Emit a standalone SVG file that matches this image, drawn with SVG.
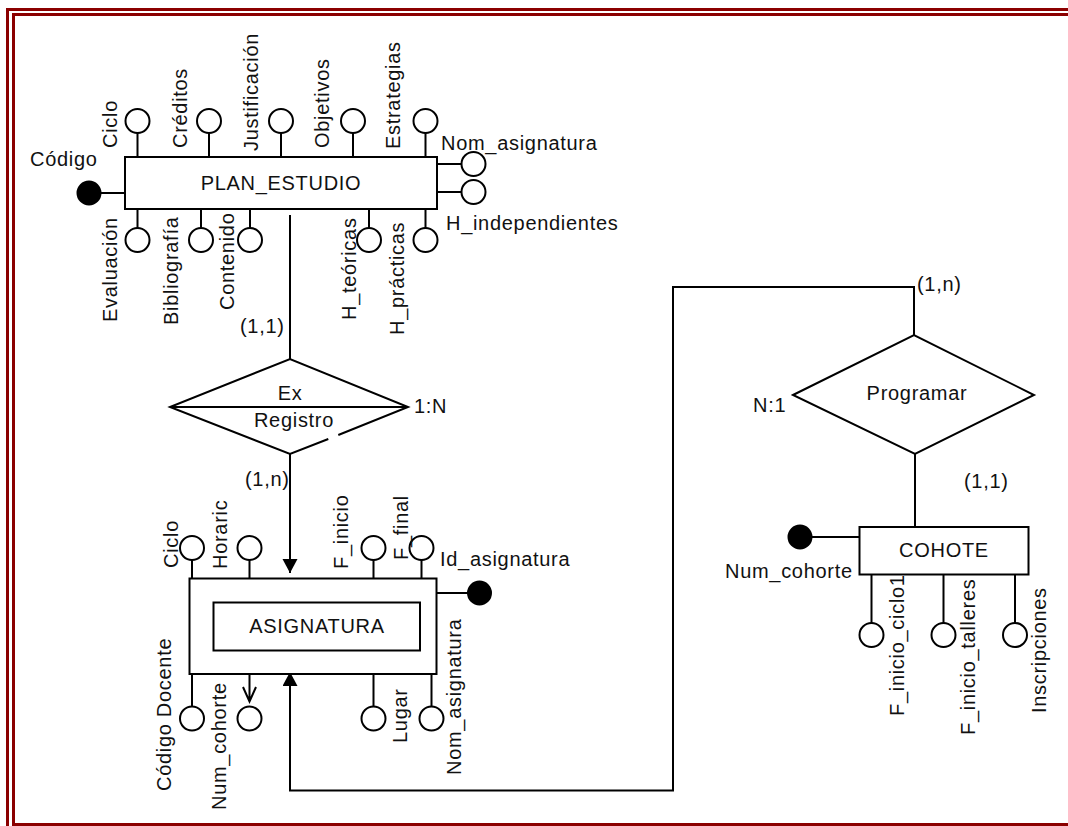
<svg xmlns="http://www.w3.org/2000/svg" width="1068" height="826" viewBox="0 0 1068 826">
<style>
.t{font-family:"Liberation Sans",Arial,sans-serif;font-size:20px;letter-spacing:0.7px;fill:#111}
.m{text-anchor:middle}
.s{fill:none;stroke:#000;stroke-width:2}
.e{fill:#fff;stroke:#000;stroke-width:2}
.k{fill:#000;stroke:#000;stroke-width:2}
.b{fill:none;stroke:#8b0000;stroke-width:3}
</style>
<defs>
<marker id="fa" markerUnits="userSpaceOnUse" markerWidth="16" markerHeight="16" refX="14" refY="7.5" orient="auto">
<path d="M0,0 L14,7.5 L0,15 Z" fill="#000"/>
</marker>
</defs>
<rect width="1068" height="826" fill="#fff"/>
<g id="frame">
<path class="b" d="M7.5,826 V9.5 H1068"/>
<path class="b" d="M1068,14.5 H13.5 V824.5 H1068"/>
</g>

<g id="connectors">
<path class="s" d="M290,215 V359"/>
<path class="s" d="M290,454 V573" marker-end="url(#fa)"/>
<path class="s" d="M914,335 V287 H673 V790.5 H290 V672" marker-end="url(#fa)"/>
<path class="s" d="M915,454 V527"/>
</g>

<g id="plan_estudio">
<rect class="e" x="125" y="157" width="312" height="52"/>
<text class="t m" x="281" y="190">PLAN_ESTUDIO</text>
<path class="s" d="M137.5,133 V157 M209,133 V157 M281,133 V157 M353,133 V157 M425.5,133 V157"/>
<circle class="e" cx="137.5" cy="121" r="12"/>
<circle class="e" cx="209" cy="121" r="12"/>
<circle class="e" cx="281" cy="121" r="12"/>
<circle class="e" cx="353" cy="121" r="12"/>
<circle class="e" cx="425.5" cy="121" r="12"/>
<text class="t" transform="translate(117,148) rotate(-90)">Ciclo</text>
<text class="t" transform="translate(187,148) rotate(-90)">Créditos</text>
<text class="t" transform="translate(258,151) rotate(-90)">Justificación</text>
<text class="t" transform="translate(329,148) rotate(-90)">Objetivos</text>
<text class="t" transform="translate(400,149) rotate(-90)">Estrategias</text>
<path class="s" d="M437,164 H461 M437,192 H461"/>
<circle class="e" cx="473.5" cy="164" r="12"/>
<circle class="e" cx="473.5" cy="192" r="12"/>
<text class="t" x="441" y="150">Nom_asignatura</text>
<text class="t" x="446" y="230">H_independientes</text>
<path class="s" d="M101,193 H125"/>
<circle class="k" cx="89" cy="193" r="11.5"/>
<text class="t" x="30" y="166">Código</text>
<path class="s" d="M137.5,209 V228 M201,209 V228 M250,209 V228 M369,209 V228 M425.5,209 V228"/>
<circle class="e" cx="137.5" cy="240" r="12"/>
<circle class="e" cx="201" cy="240" r="12"/>
<circle class="e" cx="250" cy="240" r="12"/>
<circle class="e" cx="369" cy="240" r="12"/>
<circle class="e" cx="425.5" cy="240" r="12"/>
<text class="t" transform="translate(117,322) rotate(-90)">Evaluación</text>
<text class="t" transform="translate(178,325) rotate(-90)">Bibliografía</text>
<text class="t" transform="translate(233.5,310) rotate(-90)">Contenido</text>
<text class="t" transform="translate(355.5,320) rotate(-90)">H_teóricas</text>
<text class="t" transform="translate(403.5,335) rotate(-90)">H_prácticas</text>
<text class="t" x="240" y="333">(1,1)</text>
</g>

<g id="ex_registro">
<polygon points="170,407 290,359 408,407 290,454" fill="#fff"/>
<path class="s" d="M338.3,435 L408,407 L290,359 L170,407 L290,454 L328.3,439"/>
<path class="s" d="M170,407 H408"/>
<text class="t m" x="290" y="400">Ex</text>
<text class="t m" x="294" y="427">Registro</text>
<text class="t" x="414" y="413">1:N</text>
<text class="t" x="245" y="486">(1,n)</text>
</g>

<g id="asignatura">
<rect class="e" x="189.5" y="578.5" width="247" height="95.5"/>
<rect class="e" x="213.5" y="602.5" width="206.5" height="48"/>
<text class="t m" x="317" y="633">ASIGNATURA</text>
<path class="s" d="M192,560 V578.5 M249.5,560 V578.5 M373.5,560 V578.5 M421.5,560 V578.5"/>
<circle class="e" cx="192" cy="548" r="12"/>
<circle class="e" cx="249.5" cy="548" r="12"/>
<circle class="e" cx="373.5" cy="548" r="12"/>
<circle class="e" cx="421.5" cy="548" r="12"/>
<text class="t" transform="translate(177.5,568) rotate(-90)">Ciclo</text>
<text class="t" transform="translate(226.5,569) rotate(-90)">Horaric</text>
<text class="t" transform="translate(347.5,569) rotate(-90)">F_inicio</text>
<text class="t" transform="translate(407.5,560) rotate(-90)">F_final</text>
<text class="t" x="440" y="566">Id_asignatura</text>
<path class="s" d="M436.5,593 H468"/>
<circle class="k" cx="479.5" cy="593" r="11.5"/>
<path class="s" d="M192,674 V706 M373.5,674 V706 M431.5,674 V706"/>
<path class="s" d="M249.5,674 V701 M243,687 L249.5,701.5 L256,687"/>
<circle class="e" cx="192" cy="718.5" r="12"/>
<circle class="e" cx="249.5" cy="718.5" r="12"/>
<circle class="e" cx="373.5" cy="718.5" r="12"/>
<circle class="e" cx="431.5" cy="718.5" r="12"/>
<text class="t" transform="translate(171,791) rotate(-90)">Código Docente</text>
<text class="t" transform="translate(225.5,810) rotate(-90)">Num_cohorte</text>
<text class="t" transform="translate(406.5,743) rotate(-90)">Lugar</text>
<text class="t" transform="translate(460.5,775) rotate(-90)">Nom_asignatura</text>
</g>

<g id="programar">
<polygon class="e" points="793,395 914,335 1034,395 915,454"/>
<text class="t m" x="917" y="400">Programar</text>
<text class="t" x="753" y="412">N:1</text>
<text class="t" x="917" y="291">(1,n)</text>
<text class="t" x="964" y="488">(1,1)</text>
</g>

<g id="cohote">
<rect class="e" x="859.5" y="527" width="169" height="47.5"/>
<text class="t m" x="944" y="557">COHOTE</text>
<path class="s" d="M812,537 H859.5"/>
<circle class="k" cx="800" cy="537" r="11.5"/>
<text class="t" x="725" y="578">Num_cohorte</text>
<path class="s" d="M871.5,574.5 V623 M943.5,574.5 V623 M1015,574.5 V623"/>
<circle class="e" cx="871.5" cy="635" r="12"/>
<circle class="e" cx="943.5" cy="635" r="12"/>
<circle class="e" cx="1015" cy="635" r="12"/>
<text class="t" transform="translate(903.5,716) rotate(-90)">F_inicio_ciclo1</text>
<text class="t" transform="translate(974.5,735) rotate(-90)">F_inicio_talleres</text>
<text class="t" transform="translate(1045.5,713) rotate(-90)">Inscripciones</text>
</g>
</svg>
